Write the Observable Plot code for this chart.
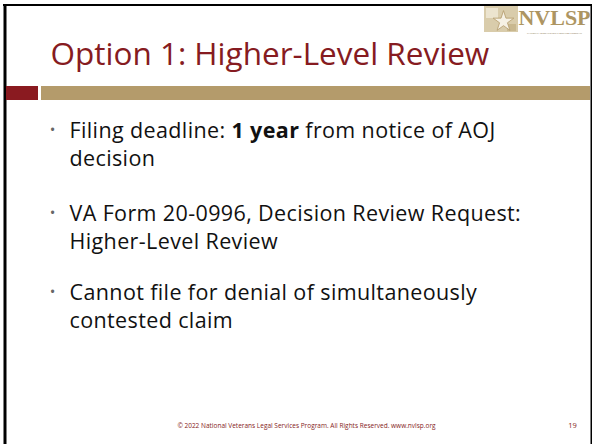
<!DOCTYPE html>
<html>
<head>
<meta charset="utf-8">
<script src="https://cdn.jsdelivr.net/npm/d3@7"></script>
<script src="https://cdn.jsdelivr.net/npm/@observablehq/plot@0.6"></script>
<style>
  html, body { margin: 0; padding: 0; background: #fff; }
  #chart svg { display: block; }
</style>
</head>
<body>
<div id="chart"></div>
<script>
// ---- content ----
const titleText = ["Option 1: Higher-Level Review"];
const bulletTexts = [
  "Filing deadline: 1 year from notice of AOJ\ndecision",
  "VA Form 20-0996, Decision Review Request:\nHigher-Level Review",
  "Cannot file for denial of simultaneously\ncontested claim"
];
const boldPhrase = "1 year";
const footerText = ["© 2022 National Veterans Legal Services Program. All Rights Reserved. www.nvlsp.org"];
const pageNumber = ["19"];
const logoText = ["NVLSP"];
const logoSubText = ["NATIONAL VETERANS LEGAL SERVICES PROGRAM"];

// ---- layout (slide coordinates) ----
const W = 592, H = 444;
const FONT = "'Open Sans', Lato, sans-serif";
const RED = "#861b21", TAN = "#b49b6b";
const bulletRows = [129, 212, 291];   // first line centre y of each bullet
const bulletData = bulletTexts.map((t, i) => ({text: t, y: bulletRows[i]}));
const bars = [
  {x1: 6, x2: 38, y1: 86, y2: 100, fill: "#8a1a20"},
  {x1: 41, x2: 590, y1: 86, y2: 100, fill: TAN}
];

const plot = Plot.plot({
  width: W, height: H,
  margin: 0,
  x: {domain: [0, W], range: [0, W], axis: null},
  y: {domain: [0, H], range: [0, H], axis: null},
  style: {fontFamily: FONT, background: "#fff"},
  marks: [
    // slide frame
    Plot.ruleY([4.5], {x1: 3, x2: 592, stroke: "#000", strokeWidth: 2}),
    Plot.ruleX([4.5], {y1: 4, y2: H, stroke: "#000", strokeWidth: 3}),
    Plot.ruleX([591], {y1: 4, y2: H, stroke: "#000", strokeWidth: 2}),
    // logo
    Plot.rect([{x1: 484, x2: 518, y1: 6, y2: 32}], {x1: "x1", x2: "x2", y1: "y1", y2: "y2", fill: "#d9ccab"}),
    Plot.rect([{x1: 486, x2: 498, y1: 8, y2: 18}], {x1: "x1", x2: "x2", y1: "y1", y2: "y2", fill: "#ece4cf"}),
    Plot.rect([{x1: 507, x2: 516, y1: 24, y2: 31}], {x1: "x1", x2: "x2", y1: "y1", y2: "y2", fill: "#c9b88f"}),
    Plot.dot([{x: 503, y: 21}], {x: "x", y: "y", symbol: "star", r: 6.5, fill: "#f6f1e4", stroke: "#b49b6b", strokeWidth: 0.8}),
    Plot.text(logoText, {x: 554, y: 17.5, text: d => d, fontSize: 22, fontWeight: "bold", fontFamily: "'Liberation Serif', 'DejaVu Serif', serif", fill: "#ad9562"}),
    Plot.text(logoSubText, {x: 554, y: 33, text: d => d, fontSize: 2.4, fill: "#8c7a55"}),
    // title
    Plot.text(titleText, {x: 50, y: 54, text: d => d, textAnchor: "start", fontSize: 31.5, fill: RED}),
    // bars under title
    Plot.rect(bars, {x1: "x1", x2: "x2", y1: "y1", y2: "y2", fill: "fill"}),
    // bullets
    Plot.text(bulletData, {x: 52, y: d => d.y + 1, text: () => "•", fontSize: 15, fill: "#666"}),
    Plot.text(bulletData, {x: 69, y: d => d.y + 14, text: "text", textAnchor: "start", lineAnchor: "middle", fontSize: 21.5, lineHeight: 1.3, fill: "#111", className: "bullet-text"}),
    // footer
    Plot.text(footerText, {x: 306, y: 425, text: d => d, fontSize: 6.5, fill: RED}),
    Plot.text(pageNumber, {x: 572, y: 425, text: d => d, fontSize: 7.5, fill: RED})
  ]
});

// wider tracking for bullet text, bold phrase
d3.select(plot).selectAll(".bullet-text text").style("letter-spacing", "0.38px");
d3.select(plot).selectAll("tspan").each(function() {
  const t = this.textContent;
  const i = t.indexOf(boldPhrase);
  if (i >= 0) {
    const sel = d3.select(this);
    sel.text(null);
    sel.append("tspan").text(t.slice(0, i));
    sel.append("tspan").attr("font-weight", "bold").text(boldPhrase);
    sel.append("tspan").text(t.slice(i + boldPhrase.length));
  }
});

document.getElementById("chart").appendChild(plot);
</script>
</body>
</html>
